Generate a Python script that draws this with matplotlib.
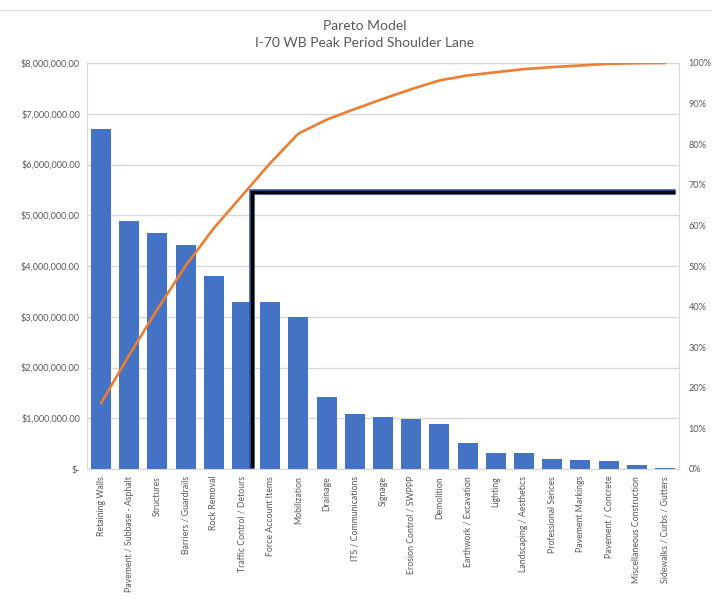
import matplotlib
matplotlib.use("Agg")
import matplotlib.pyplot as plt
import matplotlib.patheffects as pe
import numpy as np

plt.rcParams['font.family'] = ['Lato', 'DejaVu Sans']

categories = [
    "Retaining Walls", "Pavement / Subbase - Asphalt", "Structures",
    "Barriers / Guardrails", "Rock Removal", "Traffic Control / Detours",
    "Force Account Items", "Mobilization", "Drainage", "ITS / Communications",
    "Signage", "Erosion Control / SWPPP", "Demolition", "Earthwork / Excavation",
    "Lighting", "Landscaping / Aesthetics", "Professional Serices",
    "Pavement Markings", "Pavement / Concrete", "Miscellaneous Construction",
    "Sidewalks / Curbs / Gutters",
]
costs = [
    6700000, 4880000, 4650000, 4410000, 3810000, 3300000, 3300000, 3000000,
    1410000, 1080000, 1030000, 980000, 890000, 510000, 320000, 320000,
    200000, 170000, 160000, 70000, 20000,
]
left_ticks = [0, 1e6, 2e6, 3e6, 4e6, 5e6, 6e6, 7e6, 8e6]
left_tick_labels = ["$-", "$1,000,000.00", "$2,000,000.00", "$3,000,000.00",
                    "$4,000,000.00", "$5,000,000.00", "$6,000,000.00",
                    "$7,000,000.00", "$8,000,000.00"]
right_ticks = [0, 10, 20, 30, 40, 50, 60, 70, 80, 90, 100]
right_tick_labels = [f"{t}%" for t in right_ticks]

# hand-drawn cutoff marker (approx 68% cumulative, just after Traffic Control)
cutoff_x = 5.36
cutoff_end_x = 20.29
cutoff_pct = 68.3
cutoff_bottom_pct = 0.8

cum_pct = np.cumsum(costs) / np.sum(costs) * 100

text_col = "#595959"
grid_col = "#D9D9D9"

fig = plt.figure(figsize=(7.12, 6.04), dpi=100)
ax = fig.add_axes([87 / 712, 1 - 469 / 604, 592 / 712, 406 / 604])
x = np.arange(len(categories))

ax.bar(x, costs, width=0.71, color="#4472C4", zorder=2)
ax.set_xlim(-0.5, len(categories) - 0.5)
ax.set_ylim(0, 8e6)
ax.set_yticks(left_ticks)
ax.set_yticklabels(left_tick_labels)
ax.yaxis.grid(True, color=grid_col, lw=1)
ax.set_axisbelow(True)
ax.set_xticks(x)
ax.set_xticklabels(categories, rotation=90)
ax.tick_params(axis="both", length=0, colors=text_col)
ax.tick_params(axis="y", pad=5, labelsize=6.6)
ax.tick_params(axis="x", pad=5, labelsize=6.3)
for s in ax.spines.values():
    s.set_color(grid_col)
    s.set_linewidth(0.8)

ax2 = ax.twinx()
ax2.set_ylim(0, 100)
ax2.set_yticks(right_ticks)
ax2.set_yticklabels(right_tick_labels)
ax2.tick_params(axis="y", length=0, colors=text_col, labelsize=6.6, pad=7)
for s in ax2.spines.values():
    s.set_visible(False)
ax2.plot(x, cum_pct, color="#ED7D31", lw=1.9, zorder=3)

outline = [pe.Stroke(linewidth=4.0, foreground="#2F5597"), pe.Normal()]
ax2.plot([cutoff_x, cutoff_x, cutoff_end_x],
         [cutoff_bottom_pct, cutoff_pct, cutoff_pct],
         color="black", lw=2.4, solid_joinstyle="miter",
         path_effects=outline, zorder=4)

fig.text(365 / 712, 1 - 25.7 / 604, "Pareto Model", ha="center", va="center",
         fontsize=10, color=text_col)
fig.text(365 / 712, 1 - 43 / 604, "I-70 WB Peak Period Shoulder Lane",
         ha="center", va="center", fontsize=10, color=text_col)
fig.add_artist(plt.Line2D([0, 1], [1 - 9.5 / 604, 1 - 9.5 / 604],
                          color="#E0E0E0", lw=0.8))

fig.savefig("out.png", dpi=100)
